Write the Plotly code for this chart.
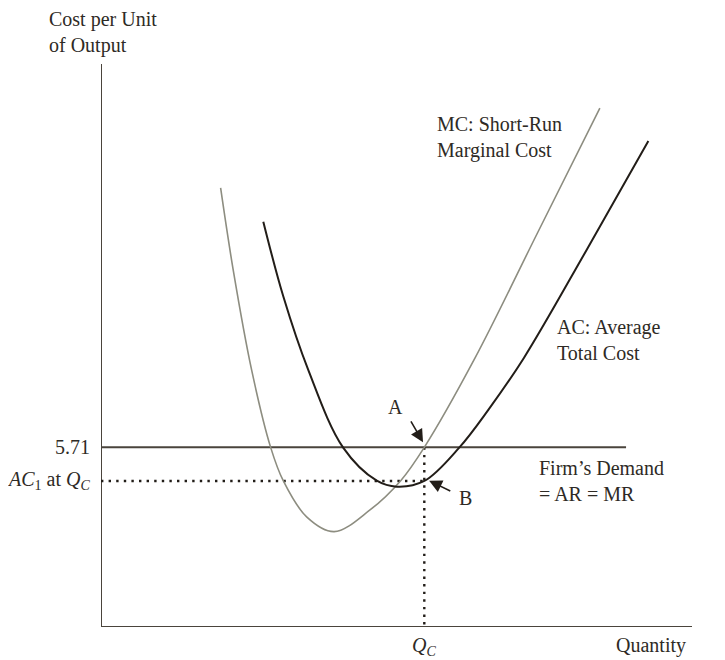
import plotly.graph_objects as go

# ---- data ----
mc_q = [3.70, 4.09, 4.66, 5.25, 5.64, 6.36, 7.21, 8.32, 9.27, 10.0, 11.57, 13.50, 15.43]
mc_c = [13.95, 11.34, 8.16, 5.70, 4.64, 3.50, 3.03, 3.72, 4.65, 5.71, 8.55, 12.52, 16.49]

ac_q = [5.02, 5.64, 6.41, 7.49, 8.53, 9.15, 10.0, 11.08, 11.98, 13.08, 15.02, 16.93]
ac_c = [12.88, 10.50, 8.17, 5.70, 4.65, 4.46, 4.64, 5.70, 6.90, 8.55, 11.98, 15.44]

price = 5.71          # firm's demand = AR = MR
q_c = 10.0            # Q_C
ac1 = 4.64            # AC at Q_C
demand_end = 16.24

x_max = 18.28
y_max = 17.89

FONT = "Liberation Serif"
TXT = "#2e2a25"
AXC = "#4a443c"
MCC = "#8d8d80"
ACC = "#221d18"

fig = go.Figure()

# axes
fig.add_trace(go.Scatter(x=[0, 0], y=[0, y_max], mode="lines",
                         line=dict(color=AXC, width=2), cliponaxis=False, hoverinfo="skip"))
fig.add_trace(go.Scatter(x=[0, x_max], y=[0, 0], mode="lines",
                         line=dict(color=AXC, width=2), cliponaxis=False, hoverinfo="skip"))

# demand line
fig.add_trace(go.Scatter(x=[0, demand_end], y=[price, price], mode="lines",
                         line=dict(color=AXC, width=2), cliponaxis=False, hoverinfo="skip"))

# dotted guides
fig.add_trace(go.Scatter(x=[0, q_c], y=[ac1, ac1], mode="lines",
                         line=dict(color=ACC, width=2.4, dash="2.4px,5.2px"), cliponaxis=False))
fig.add_trace(go.Scatter(x=[q_c, q_c], y=[price, 0], mode="lines",
                         line=dict(color=ACC, width=2.4, dash="2.4px,5.2px"), cliponaxis=False))

# curves
fig.add_trace(go.Scatter(x=mc_q, y=mc_c, mode="lines", line_shape="spline",
                         line=dict(color=MCC, width=1.6, smoothing=1.0), cliponaxis=False))
fig.add_trace(go.Scatter(x=ac_q, y=ac_c, mode="lines", line_shape="spline",
                         line=dict(color=ACC, width=2, smoothing=1.0), cliponaxis=False))

f = dict(family=FONT, size=20, color=TXT)


def px(v):
    return v / x_max


def py(v):
    return v / y_max


ann = []
# labels outside the plotting area use paper coordinates
ann.append(dict(xref="paper", yref="paper", x=px(-1.67), y=py(18.90),
                text="Cost per Unit<br>of Output", showarrow=False,
                xanchor="left", yanchor="middle", align="left", font=f))
ann.append(dict(xref="paper", yref="paper", x=px(-0.28), y=py(price), text="5.71",
                showarrow=False, xanchor="right", yanchor="middle", font=f))
ann.append(dict(xref="paper", yref="paper", x=px(-0.28), y=py(ac1),
                text="<i>AC</i><sub>1</sub> at <i>Q</i><sub><i>C</i></sub>",
                showarrow=False, xanchor="right", yanchor="middle", font=f))
ann.append(dict(xref="paper", yref="paper", x=px(q_c), y=py(-0.62),
                text="<i>Q</i><sub><i>C</i></sub>", showarrow=False,
                xanchor="center", yanchor="middle", font=f))
ann.append(dict(xref="paper", yref="paper", x=px(18.16), y=py(-0.6), text="Quantity",
                showarrow=False, xanchor="right", yanchor="middle", font=f))
# labels inside
ann.append(dict(x=10.33, y=15.57, text="MC: Short-Run<br>Marginal Cost", showarrow=False,
                xanchor="left", yanchor="middle", align="left", font=f))
ann.append(dict(x=14.04, y=9.12, text="AC: Average<br>Total Cost", showarrow=False,
                xanchor="left", yanchor="middle", align="left", font=f))
ann.append(dict(x=13.49, y=4.65, text="Firm\u2019s Demand<br>= AR = MR", showarrow=False,
                xanchor="left", yanchor="middle", align="left", font=f))
ann.append(dict(x=9.11, y=7.0, text="A", showarrow=False,
                xanchor="center", yanchor="middle", font=f))
ann.append(dict(x=11.26, y=4.10, text="B", showarrow=False,
                xanchor="center", yanchor="middle", font=f))
# arrows
ann.append(dict(x=9.96, y=5.87, ax=9.56, ay=6.58, axref="x", ayref="y", text="",
                showarrow=True, arrowhead=2, arrowsize=1.6, arrowwidth=1.6, arrowcolor=ACC))
ann.append(dict(x=10.15, y=4.65, ax=10.85, ay=4.30, axref="x", ayref="y", text="",
                showarrow=True, arrowhead=2, arrowsize=1.6, arrowwidth=1.6, arrowcolor=ACC))

fig.update_layout(
    width=717, height=652,
    margin=dict(l=93, r=33, t=56, b=33),
    paper_bgcolor="white", plot_bgcolor="white",
    showlegend=False,
    annotations=ann,
    xaxis=dict(range=[0, x_max], visible=False, fixedrange=True),
    yaxis=dict(range=[0, y_max], visible=False, fixedrange=True),
)

fig.write_html("out.html")
